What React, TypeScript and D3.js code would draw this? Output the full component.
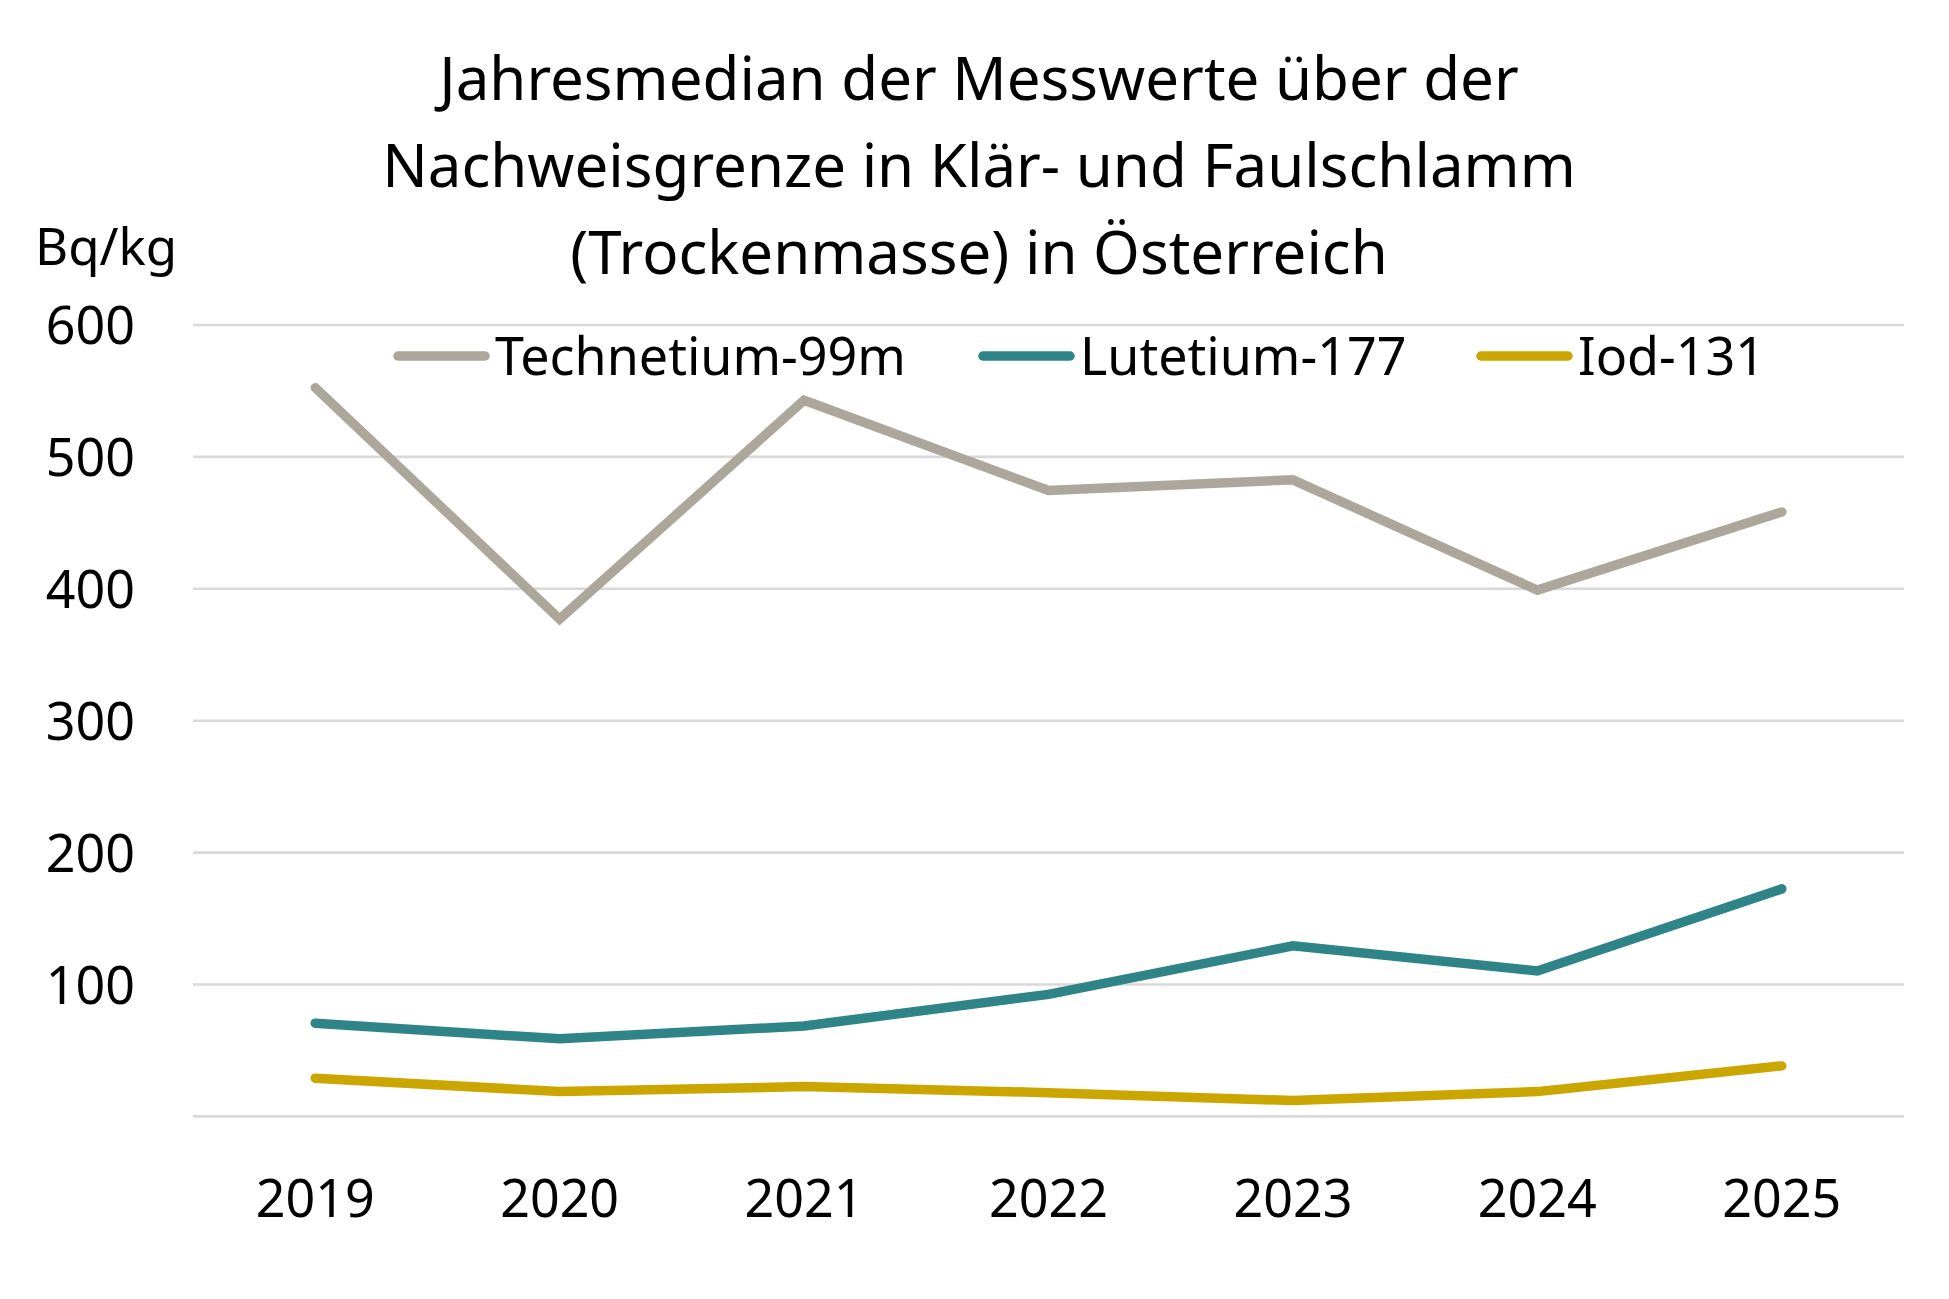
import React from 'react';
import * as d3 from 'd3';

const years = ['2019', '2020', '2021', '2022', '2023', '2024', '2025'];
const technetium = [552.5, 377, 543, 474.5, 482.6, 399, 458.3];
const lutetium = [70.7, 58.8, 68.6, 92.5, 129.3, 110.3, 172.5];
const iod = [29, 18.8, 22.6, 18, 12, 18.8, 38.3];
const yTicks = [100, 200, 300, 400, 500, 600];
const titleLines = [
  'Jahresmedian der Messwerte über der',
  'Nachweisgrenze in Klär- und Faulschlamm',
  '(Trockenmasse) in Österreich',
];
const seriesNames = ['Technetium-99m', 'Lutetium-177', 'Iod-131'];
const seriesColors = ['#aca69b', '#2e8487', '#cca600'];

const W = 1949;
const H = 1299;
const FONT = '"Noto Sans", "Open Sans", sans-serif';

export default function App() {
  const x = d3.scaleBand<string>().domain(years).range([193, 1904]).padding(0);
  const y = d3.scaleLinear().domain([0, 600]).range([1116.4, 325]);
  const cx = (yr: string) => (x(yr) ?? 0) + x.bandwidth() / 2;

  const line = d3.line<number>()
    .x((_, i) => cx(years[i]))
    .y(d => y(d));

  const series = [technetium, lutetium, iod];

  // legend entries: line start x (text follows after the swatch)
  const legendX = [398, 983, 1481];

  return (
    <div style={{ position: 'absolute', left: 0, top: 0, width: W, height: H, background: '#fff' }}>
      <svg width={W} height={H} viewBox={`0 0 ${W} ${H}`} style={{ display: 'block' }} fontFamily={FONT}>
        <rect width={W} height={H} fill="#fff" />

        {/* title */}
        {titleLines.map((t, i) => (
          <text key={t} x={979} y={100 + i * 87} textAnchor="middle" fontSize={60} fill="#000">{t}</text>
        ))}

        <text x={35} y={265} fontSize={51} fill="#000">Bq/kg</text>

        {/* grid */}
        {[0, ...yTicks].map(t => (
          <line key={t} x1={x.range()[0]} x2={x.range()[1]} y1={y(t)} y2={y(t)} stroke="#d9d9d9" strokeWidth={2.6} />
        ))}

        {yTicks.map(t => (
          <text key={t} x={135} y={y(t) + 19} textAnchor="end" fontSize={52} fill="#000">{t}</text>
        ))}

        {years.map(yr => (
          <text key={yr} x={cx(yr)} y={1217} textAnchor="middle" fontSize={52} fill="#000">{yr}</text>
        ))}

        {/* lines */}
        {series.map((s, i) => (
          <path key={seriesNames[i]} d={line(s) ?? ''} fill="none" stroke={seriesColors[i]}
            strokeWidth={9.5} strokeLinecap="round" strokeLinejoin="miter" />
        ))}

        {/* legend */}
        {seriesNames.map((n, i) => (
          <g key={n}>
            <line x1={legendX[i]} x2={legendX[i] + 87} y1={356} y2={356} stroke={seriesColors[i]}
              strokeWidth={9.5} strokeLinecap="round" />
            <text x={legendX[i] + 97} y={375} fontSize={52} fill="#000">{n}</text>
          </g>
        ))}
      </svg>
    </div>
  );
}
